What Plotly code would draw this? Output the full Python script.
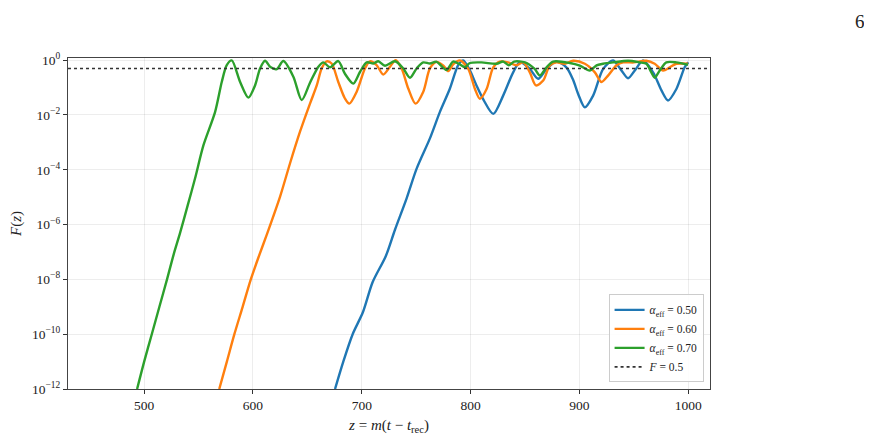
"""
plot.py
=======

Fracción F(z) frente a z = m(t - t_rec) para tres valores de alpha_eff,
en escala logarítmica, con la línea de referencia F = 0.5.
"""

import plotly.graph_objects as go

# --- datos ---------------------------------------------------------------

z_a050 = [675.4, 683, 691.6, 701, 710, 722, 730.5, 741.2, 750.4, 762.6,
          771.8, 780.9, 788.6, 793.2, 799, 805.4, 812, 820.8, 829.9, 839.1,
          845.3, 854.4, 862.1, 869.8, 878.9, 888, 894, 899, 905, 912.6,
          921.8, 931, 938.6, 944.7, 950.9, 958.5, 967.7, 975.4, 981.4, 989.1,
          996.7, 1000]
f_a050 = [1e-12, 1e-11, 1e-10, 6.3e-10, 8e-9, 7e-8, 6.5e-7, 9.1e-6, 1.1e-4, 1.4e-3,
          1.3e-2, 9.1e-2, 0.66, 0.98, 0.45, 0.12, 0.035, 0.011, 0.051, 0.36,
          0.85, 0.48, 0.21, 0.48, 0.89, 0.55, 0.2, 0.056, 0.019, 0.051,
          0.48, 0.98, 0.42, 0.22, 0.42, 0.97, 0.36, 0.079, 0.034, 0.089,
          0.55, 0.85]

z_a060 = [569, 576, 582.9, 590.5, 598, 605, 612.6, 624.9, 634, 643.3,
          652.4, 658.6, 663.1, 667.7, 672.3, 678.4, 684.5, 688.5, 695.3, 702.9,
          707.5, 713.6, 719.7, 725.9, 731.1, 736.6, 742.7, 749.4, 756.5, 762.6,
          768.7, 775, 779.5, 784, 790.2, 797.8, 804, 808.5, 814.7, 820.8,
          826.9, 834.6, 842.2, 848.3, 854.4, 860, 866.7, 872.8, 878.9, 886.5,
          894.2, 905, 914.2, 920.3, 926.5, 934.1, 940.2, 950, 961.5, 969.2,
          976.9, 983, 989.1, 999.8]
f_a060 = [1e-12, 1e-11, 1e-10, 1e-9, 1e-8, 6.3e-8, 4.2e-7, 1.05e-5, 1.7e-4, 2.5e-3,
          0.026, 0.12, 0.5, 0.91, 0.76, 0.16, 0.04, 0.026, 0.071, 0.5,
          0.91, 0.66, 0.3, 0.58, 1.0, 0.5, 0.093, 0.026, 0.071, 0.5,
          0.87, 0.63, 0.4, 0.71, 0.98, 0.48, 0.089, 0.039, 0.089, 0.55,
          0.89, 0.83, 0.65, 0.83, 0.36, 0.12, 0.18, 0.65, 0.83, 0.74,
          0.95, 0.74, 0.36, 0.16, 0.28, 0.65, 0.83, 0.83, 0.95, 0.74,
          0.42, 0.55, 0.74, 0.74]

z_a070 = [493.5, 500, 507, 514, 521, 527, 533, 540, 546.8, 554.5,
          565.2, 571.3, 575.9, 580.5, 588.2, 595.8, 601.9, 606.5, 611.1, 616,
          621.8, 627.9, 637.1, 644.8, 652.4, 660.1, 664.7, 670.8, 678.4, 684.5,
          692.2, 698.3, 704.5, 710.6, 715.2, 721.3, 730.5, 738.1, 744.3, 750.4,
          756.5, 762.6, 768.7, 777.9, 783.9, 790, 794.8, 799.4, 810, 823.8,
          830, 835, 840, 850, 858.9, 863.6, 869.8, 875.8, 891.2, 900.4,
          909.6, 915.7, 921.8, 931, 944.7, 955.4, 961.5, 966.1, 969.2, 973.8,
          979.9, 989.1, 999.8]
f_a070 = [1e-12, 1e-11, 1e-10, 1e-9, 1e-8, 7.9e-8, 5e-7, 5e-6, 4.9e-5, 7.9e-4,
          0.013, 0.16, 0.66, 0.98, 0.16, 0.043, 0.12, 0.5, 0.95, 0.56,
          0.47, 0.93, 0.25, 0.035, 0.15, 0.58, 0.83, 0.55, 0.93, 0.32,
          0.14, 0.37, 0.83, 0.76, 0.91, 0.63, 0.91, 0.5, 0.23, 0.5,
          0.83, 0.76, 0.87, 0.44, 0.89, 0.71, 0.56, 0.79, 0.83, 0.74,
          0.89, 0.65, 0.89, 0.83, 0.48, 0.28, 0.55, 0.89, 0.79, 0.63,
          0.42, 0.65, 0.74, 0.83, 0.95, 0.83, 0.74, 0.36, 0.23, 0.42,
          0.83, 0.83, 0.68]

F_THRESHOLD = 0.5
Z_LIMITS = [430, 1020]

x_tickvals = [500, 600, 700, 800, 900, 1000]
y_tickvals = [1e-12, 1e-10, 1e-8, 1e-6, 1e-4, 1e-2, 1]
y_ticktext = ["10<sup>−12</sup>", "10<sup>−10</sup>", "10<sup>−8</sup>",
              "10<sup>−6</sup>", "10<sup>−4</sup>", "10<sup>−2</sup>", "10<sup>0</sup>"]

SERIES = [
    ("0.50", z_a050, f_a050, "#1f77b4"),
    ("0.60", z_a060, f_a060, "#ff7f0e"),
    ("0.70", z_a070, f_a070, "#2ca02c"),
]

SERIF = "Liberation Serif, DejaVu Serif, serif"

fig = go.Figure()

for alpha, z, f, color in SERIES:
    fig.add_trace(go.Scatter(
        x=z, y=f, mode="lines",
        line=dict(color=color, width=2.4, shape="spline", smoothing=0.8),
        name=f"<i>α</i><sub>eff</sub> = {alpha}",
    ))

fig.add_trace(go.Scatter(
    x=Z_LIMITS, y=[F_THRESHOLD, F_THRESHOLD], mode="lines",
    line=dict(color="#333333", width=1.6, dash="dot"),
    name="<i>F</i> = 0.5",
))

axis_style = dict(
    showline=True, linecolor="#444444", linewidth=1.3, mirror=True,
    ticks="outside", ticklen=4, tickcolor="#333333",
    showgrid=True, gridcolor="rgba(0,0,0,0.07)", gridwidth=1,
    zeroline=False, automargin=False,
    tickfont=dict(family=SERIF, size=13.5, color="#222222"),
)

fig.update_xaxes(
    range=Z_LIMITS,
    tickvals=x_tickvals,
    title=dict(text="<i>z</i> = <i>m</i>(<i>t</i> − <i>t</i><sub>rec</sub>)",
               font=dict(family=SERIF, size=15, color="#222222")),
    **axis_style,
)
fig.update_yaxes(
    type="log",
    range=[-12, 0.08],
    tickvals=y_tickvals,
    ticktext=y_ticktext,
    title=dict(text="<i>F</i>(<i>z</i>)",
               font=dict(family=SERIF, size=15, color="#222222")),
    **axis_style,
)

# número de página
fig.add_annotation(
    text="6", xref="paper", yref="paper", x=1.2336, y=1.148,
    xanchor="center", yanchor="top", showarrow=False,
    font=dict(family=SERIF, size=19, color="#222222"),
)

fig.update_layout(
    width=864, height=427,
    margin=dict(l=60, r=162, t=50, b=46),
    paper_bgcolor="white", plot_bgcolor="white",
    font=dict(family=SERIF, size=12, color="#222222"),
    showlegend=True,
    legend=dict(
        x=0.99, y=0.02, xanchor="right", yanchor="bottom",
        bgcolor="rgba(255,255,255,0.85)", bordercolor="#cccccc", borderwidth=1,
        font=dict(family=SERIF, size=11.5),
        tracegroupgap=0,
    ),
)

fig.write_html("out.html")
